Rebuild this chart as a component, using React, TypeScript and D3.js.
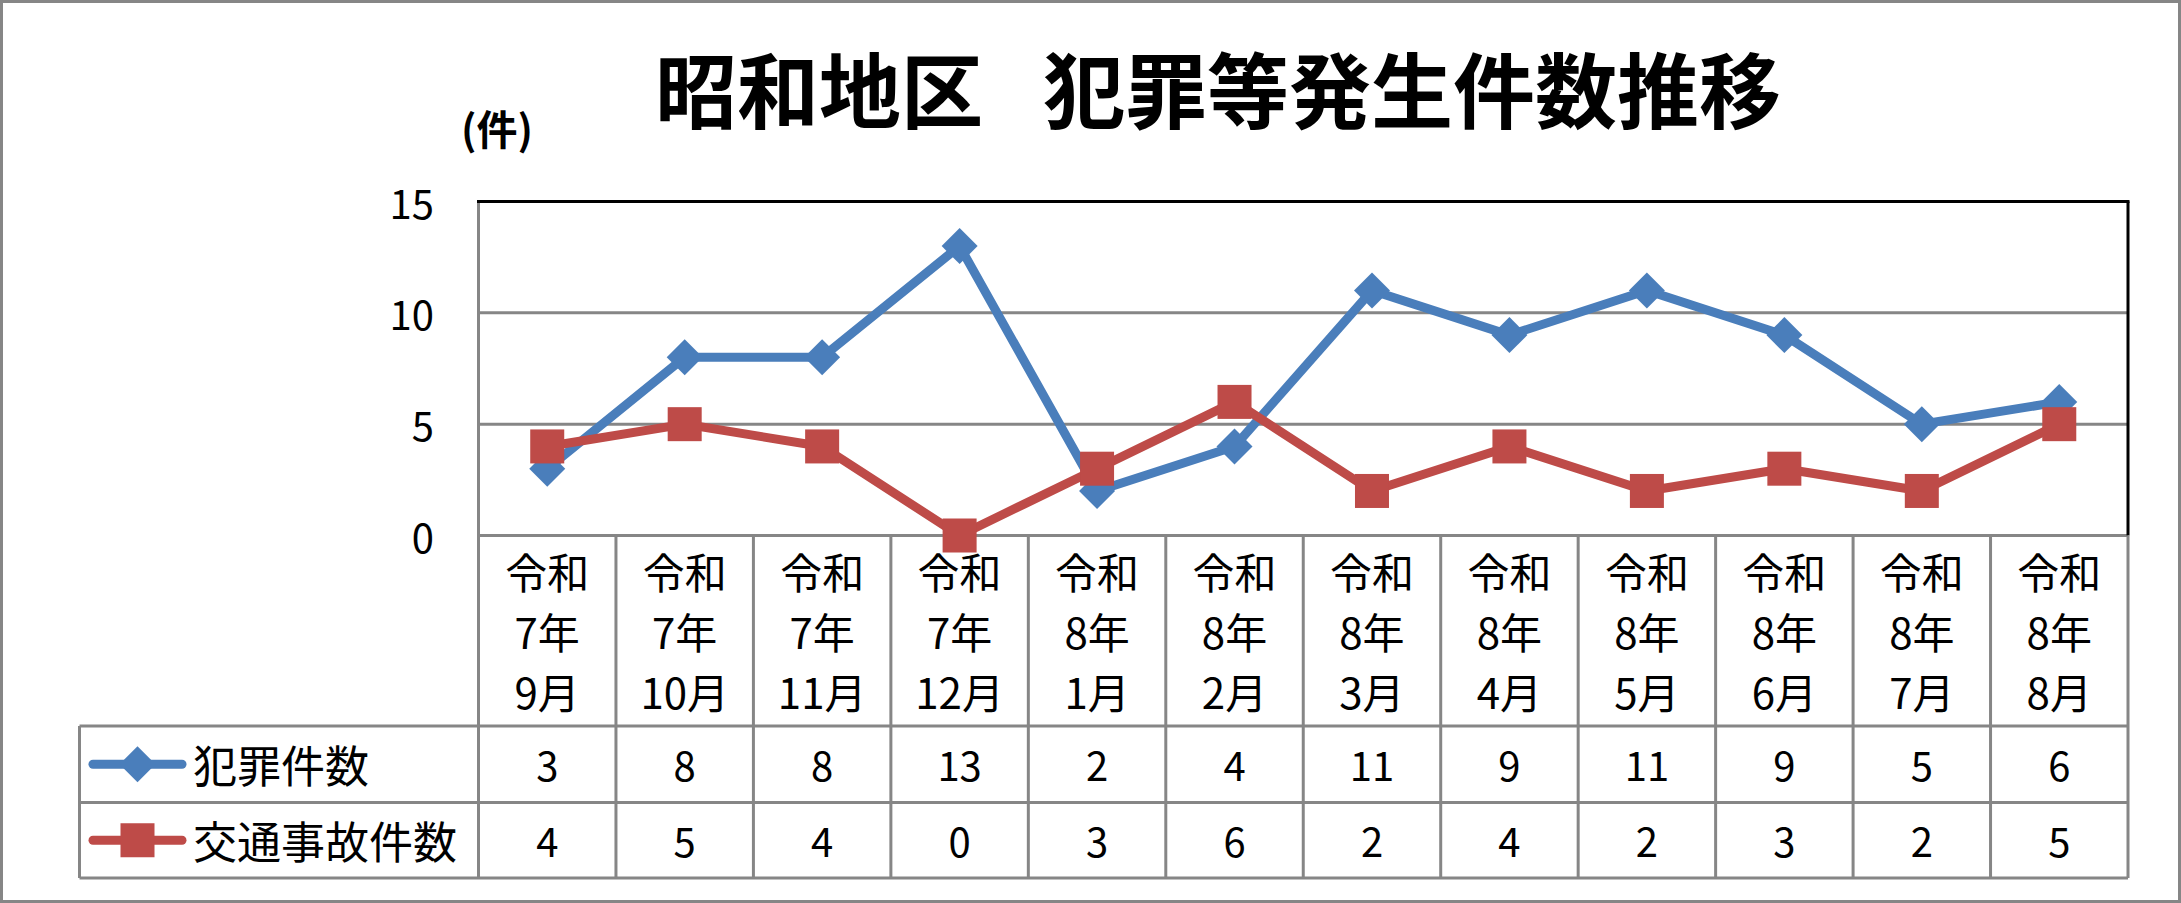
import React from "react";
import * as d3 from "d3";

const titleParts = ["昭和地区", "犯罪等発生件数推移"];
const unitLabel = "(件)";
const categories = [
  "令和7年9月", "令和7年10月", "令和7年11月", "令和7年12月",
  "令和8年1月", "令和8年2月", "令和8年3月", "令和8年4月",
  "令和8年5月", "令和8年6月", "令和8年7月", "令和8年8月",
];
const crimeName = "犯罪件数";
const crimeValues = [3, 8, 8, 13, 2, 4, 11, 9, 11, 9, 5, 6];
const trafficName = "交通事故件数";
const trafficValues = [4, 5, 4, 0, 3, 6, 2, 4, 2, 3, 2, 5];
const yTicks = [0, 5, 10, 15];

const W = 2181;
const H = 903;
const plotL = 478.5;
const plotR = 2128;
const plotT = 201.5;
const plotB = 535.5;
const legendL = 79.5;
const row1T = 726;
const row2T = 802.5;
const row2B = 878;

const BLUE = "#4A7EBB";
const RED = "#BE4B48";
const GRID = "#868686";
const JP = "'Noto Sans CJK JP', 'Noto Sans', sans-serif";
const NUM = "'Liberation Sans Narrow', 'Noto Sans CJK JP', sans-serif";

function splitCat(c: string): string[] {
  const m = c.match(/^(令和)(\d+年)(\d+月)$/);
  return m ? [m[1], m[2], m[3]] : [c];
}

export default function App() {
  const x = d3.scaleBand<string>().domain(categories).range([plotL, plotR]);
  const y = d3.scaleLinear().domain([0, 15]).range([plotB, plotT]);
  const cx = (c: string) => (x(c) as number) + x.bandwidth() / 2;

  const line = d3
    .line<number>()
    .x((_, i) => cx(categories[i]))
    .y((v) => y(v));

  const diamond = (px: number, py: number, r: number) =>
    `M${px},${py - r}L${px + r},${py}L${px},${py + r}L${px - r},${py}Z`;

  const row1C = (row1T + row2T) / 2;
  const row2C = (row2T + row2B) / 2;
  const headC = (plotB + row1T) / 2;

  return (
    <svg
      width={W}
      height={H}
      style={{ position: "absolute", left: 0, top: 0, background: "#fff" }}
    >
      <rect x={0} y={0} width={W} height={H} fill="#fff" />
      <rect x={1.5} y={1.5} width={W - 3} height={H - 3} fill="none" stroke="#868686" strokeWidth={3} />

      <text y={86} dominantBaseline="central" fontFamily={JP} fontWeight={700} fontSize={82} fill="#000">
        <tspan x={655}>{titleParts[0]}</tspan>
        <tspan x={1043}>{titleParts[1]}</tspan>
      </text>
      <text x={461} y={127} dominantBaseline="central" fontFamily={JP} fontWeight={700} fontSize={41} fill="#000">
        {unitLabel}
      </text>

      {/* gridlines */}
      {yTicks.map((t) => (
        <line key={"g" + t} x1={plotL} x2={plotR} y1={y(t)} y2={y(t)} stroke={GRID} strokeWidth={3} />
      ))}
      {yTicks.map((t) => (
        <text
          key={"t" + t}
          x={434}
          y={y(t)}
          textAnchor="end"
          dominantBaseline="central"
          fontFamily={NUM}
          fontSize={40}
          fill="#000"
        >
          {t}
        </text>
      ))}

      {/* plot borders */}
      <line x1={plotL} x2={plotL} y1={plotT} y2={row2B} stroke={GRID} strokeWidth={3} />
      <line x1={plotL - 1.5} x2={plotR + 1.5} y1={plotT} y2={plotT} stroke="#000" strokeWidth={3} />
      <line x1={plotR} x2={plotR} y1={plotT} y2={plotB} stroke="#000" strokeWidth={3} />

      {/* table grid */}
      {categories.map((c, i) => (
        <line
          key={"v" + i}
          x1={(x(c) as number) + x.bandwidth()}
          x2={(x(c) as number) + x.bandwidth()}
          y1={plotB}
          y2={row2B}
          stroke={GRID}
          strokeWidth={3}
        />
      ))}
      <line x1={legendL} x2={legendL} y1={row1T} y2={row2B} stroke={GRID} strokeWidth={3} />
      {[row1T, row2T, row2B].map((yy, i) => (
        <line key={"h" + i} x1={legendL} x2={plotR} y1={yy} y2={yy} stroke={GRID} strokeWidth={3} />
      ))}

      {/* header labels */}
      {categories.map((c) => (
        <text
          key={"c" + c}
          textAnchor="middle"
          fontFamily={JP}
          fontSize={42}
          fill="#000"
        >
          {splitCat(c).map((s, j) => (
            <tspan key={j} x={cx(c)} y={headC + (j - 1) * 60} dominantBaseline="central">
              {s}
            </tspan>
          ))}
        </text>
      ))}

      {/* values */}
      {categories.map((c, i) => (
        <g key={"val" + i}>
          <text x={cx(c)} y={row1C} textAnchor="middle" dominantBaseline="central" fontFamily={NUM} fontSize={40} fill="#000">
            {crimeValues[i]}
          </text>
          <text x={cx(c)} y={row2C} textAnchor="middle" dominantBaseline="central" fontFamily={NUM} fontSize={40} fill="#000">
            {trafficValues[i]}
          </text>
        </g>
      ))}

      {/* legend keys */}
      <line x1={93} x2={182} y1={row1C} y2={row1C} stroke={BLUE} strokeWidth={9} strokeLinecap="round" />
      <path d={diamond(137.5, row1C, 18)} fill={BLUE} />
      <text x={193} y={row1C} dominantBaseline="central" fontFamily={JP} fontSize={44} fill="#000">
        {crimeName}
      </text>
      <line x1={93} x2={182} y1={row2C} y2={row2C} stroke={RED} strokeWidth={9} strokeLinecap="round" />
      <rect x={137.5 - 17} y={row2C - 17} width={34} height={34} fill={RED} />
      <text x={193} y={row2C} dominantBaseline="central" fontFamily={JP} fontSize={44} fill="#000">
        {trafficName}
      </text>

      {/* series */}
      <path d={line(crimeValues) as string} fill="none" stroke={BLUE} strokeWidth={9} strokeLinejoin="round" />
      {crimeValues.map((v, i) => (
        <path key={"d" + i} d={diamond(cx(categories[i]), y(v), 18)} fill={BLUE} />
      ))}
      <path d={line(trafficValues) as string} fill="none" stroke={RED} strokeWidth={9} strokeLinejoin="round" />
      {trafficValues.map((v, i) => (
        <rect key={"s" + i} x={cx(categories[i]) - 17} y={y(v) - 17} width={34} height={34} fill={RED} />
      ))}
    </svg>
  );
}
